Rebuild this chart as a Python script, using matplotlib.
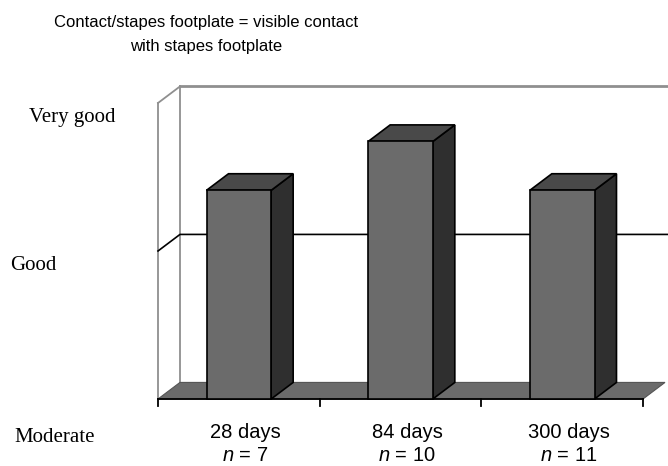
import matplotlib
matplotlib.use("Agg")
import matplotlib.pyplot as plt
from matplotlib.patches import Polygon

plt.rcParams["mathtext.fontset"] = "custom"
plt.rcParams["mathtext.it"] = "Liberation Sans:italic"
plt.rcParams["mathtext.rm"] = "Liberation Sans"

categories = ["28 days", "84 days", "300 days"]
n_labels = ["7", "10", "11"]
values = [1.41, 1.74, 1.41]
level_labels = ["Moderate", "Good", "Very good"]
title = "Contact/stapes footplate = visible contact\nwith stapes footplate"

W, H = 668, 466
fig = plt.figure(figsize=(W / 100, H / 100), dpi=100)
ax = fig.add_axes([158 / W, (H - 399) / H, (643 - 158) / W, (399 - 103) / H])
ax.set_xlim(0, 3)
ax.set_ylim(0, 2)
ax.axis("off")

DX, DY = 0.136, 0.112   # depth offset in data units
BW = 0.4                # bar width (category fraction)
front_c, top_c, side_c = "#6b6b6b", "#494949", "#2f2f2f"
wall_c = "#8f8f8f"


def poly(pts, **kw):
    p = Polygon(pts, closed=True, clip_on=False, **kw)
    ax.add_patch(p)
    return p


ext = 3.4  # walls extend beyond the image to the right
ax.plot([DX, ext], [2 + DY, 2 + DY], color=wall_c, lw=2.0, clip_on=False, zorder=1)
ax.plot([DX, DX], [DY, 2 + DY], color=wall_c, lw=1.3, clip_on=False, zorder=1)
ax.plot([0, 0], [0, 2], color=wall_c, lw=1.3, clip_on=False, zorder=1)
ax.plot([0, DX], [2, 2 + DY], color=wall_c, lw=1.3, clip_on=False, zorder=1)
ax.plot([0, DX, ext], [1, 1 + DY, 1 + DY], color="black", lw=1.2, clip_on=False, zorder=1)

# floor
poly([(0, 0), (3, 0), (3 + DX, DY), (DX, DY)], facecolor=front_c,
     edgecolor="#555555", lw=0.8, zorder=2)
ax.plot([0, 3], [0, 0], color="black", lw=1.3, clip_on=False, zorder=2)
for t in range(4):
    ax.plot([t, t], [0, -0.045], color="black", lw=1.3, clip_on=False, zorder=2)

# bars
for i, v in enumerate(values):
    x0 = i + 0.5 - BW / 2
    x1 = i + 0.5 + BW / 2
    poly([(x1, 0), (x1 + DX, DY), (x1 + DX, v + DY), (x1, v)],
         facecolor=side_c, edgecolor="black", lw=1.2, zorder=3)
    poly([(x0, v), (x1, v), (x1 + DX, v + DY), (x0 + DX, v + DY)],
         facecolor=top_c, edgecolor="black", lw=1.2, zorder=3)
    poly([(x0, 0), (x1, 0), (x1, v), (x0, v)],
         facecolor=front_c, edgecolor="black", lw=1.2, zorder=4)

# category labels
for i, (c, n) in enumerate(zip(categories, n_labels)):
    ax.text(i + 0.5 + 0.04, -0.225, c, ha="center", va="center", fontsize=14.5,
            family="Liberation Sans", clip_on=False)
    ax.text(i + 0.5 + 0.04, -0.38, r"$\mathit{n}$ = " + n, ha="center", va="center",
            fontsize=14.5, family="Liberation Sans", clip_on=False)

# level labels (placed as in the original)
label_pos = [(55, 438), (33, 266), (72, 117)]
for lab, (px, py) in zip(level_labels, label_pos):
    fig.text(px / W, 1 - py / H, lab, ha="center", va="center", fontsize=15,
             family="Liberation Serif")

fig.text(206 / W, 1 - 34 / H, title, ha="center", va="center", fontsize=12,
         family="Liberation Sans", linespacing=1.75)

fig.savefig("out.png", dpi=100)
